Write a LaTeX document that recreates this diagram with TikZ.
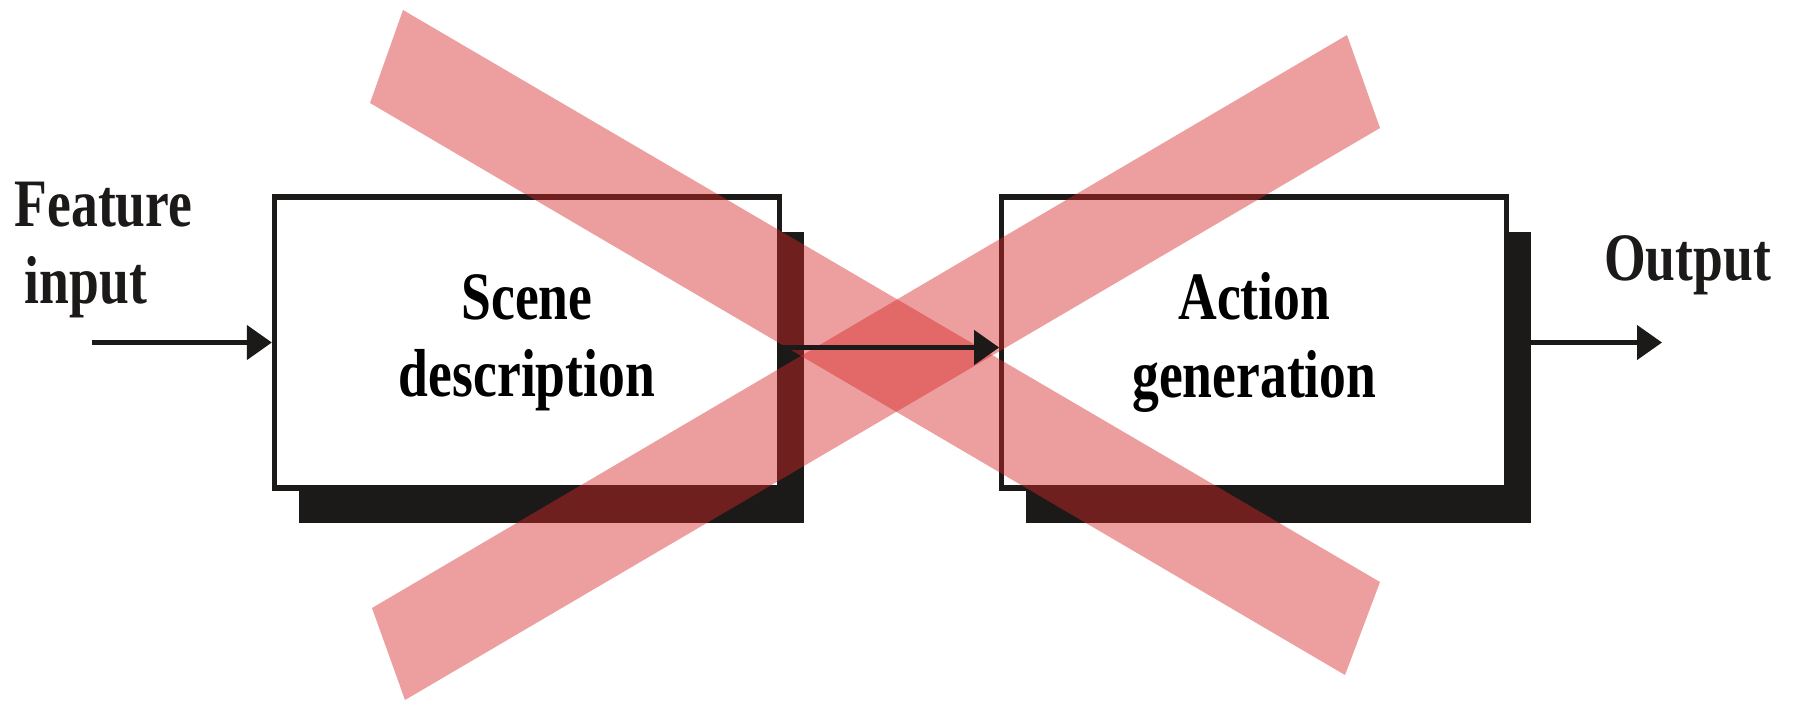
\documentclass[tikz,border=0pt]{standalone}
\usepackage{fontspec}
\setmainfont{Liberation Serif}[FakeStretch=0.79]
\usepackage{tikz}
\usetikzlibrary{positioning,arrows.meta,shadows}
\definecolor{crossred}{RGB}{215,40,40}
\definecolor{inkblack}{RGB}{28,25,25}
\newcommand{\diagfont}{\fontsize{19.3}{22}\selectfont\bfseries}

\begin{document}
\begin{tikzpicture}[scale=1,
        stage/.style={draw=inkblack, fill=white, line width=1.5pt, minimum width=5.05cm, minimum height=2.91cm, inner sep=0pt, align=center, font=\diagfont, drop shadow={shadow xshift=0.24cm, shadow yshift=-0.35cm, fill=inkblack, opacity=1}},
        sidetext/.style={inner sep=0pt, text=inkblack, font=\diagfont},
        flow/.style={draw=inkblack, line width=1.3pt, -{Triangle[length=0.25cm, width=0.34cm]}},
        band/.style={fill=crossred, fill opacity=0.45}]
        \useasboundingbox (0,0) rectangle (17.93,7.03);

        % Coordinates
        \coordinate (A) at (4.03, 6.93);
        \coordinate (B) at (13.80, 1.21);
        \coordinate (C) at (13.45, 0.28);
        \coordinate (D) at (3.70, 6.00);
        \coordinate (E) at (3.72, 0.95);
        \coordinate (F) at (13.47, 6.68);
        \coordinate (G) at (13.80, 5.75);
        \coordinate (H) at (4.05, 0.03);
        \coordinate (in) at (0.92, 3.605);
        \coordinate (out) at (16.62, 3.605);

        % Blocks and labels
        \node[stage] (scene) at (5.27, 3.605) {Scene\\description};
        \node[stage, right=2.17cm of scene] (action) {Action\\generation};
        \node[sidetext, align=left] (feature) at (1.035, 4.53) {Feature\\\hspace{0.1cm}input};
        \node[sidetext] (output) at (16.875, 4.38) {Output};

        % Drawing
        \draw[flow] (in) -- (scene.west);
        \draw[flow] (action.east) -- (out);
        \fill[band] (A) -- (B) -- (C) -- (D) -- cycle;
        \fill[band] (E) -- (F) -- (G) -- (H) -- cycle;
        \draw[flow] ([yshift=-0.05cm]scene.east) -- ([yshift=-0.05cm]action.west);
    \end{tikzpicture}
\end{document}
